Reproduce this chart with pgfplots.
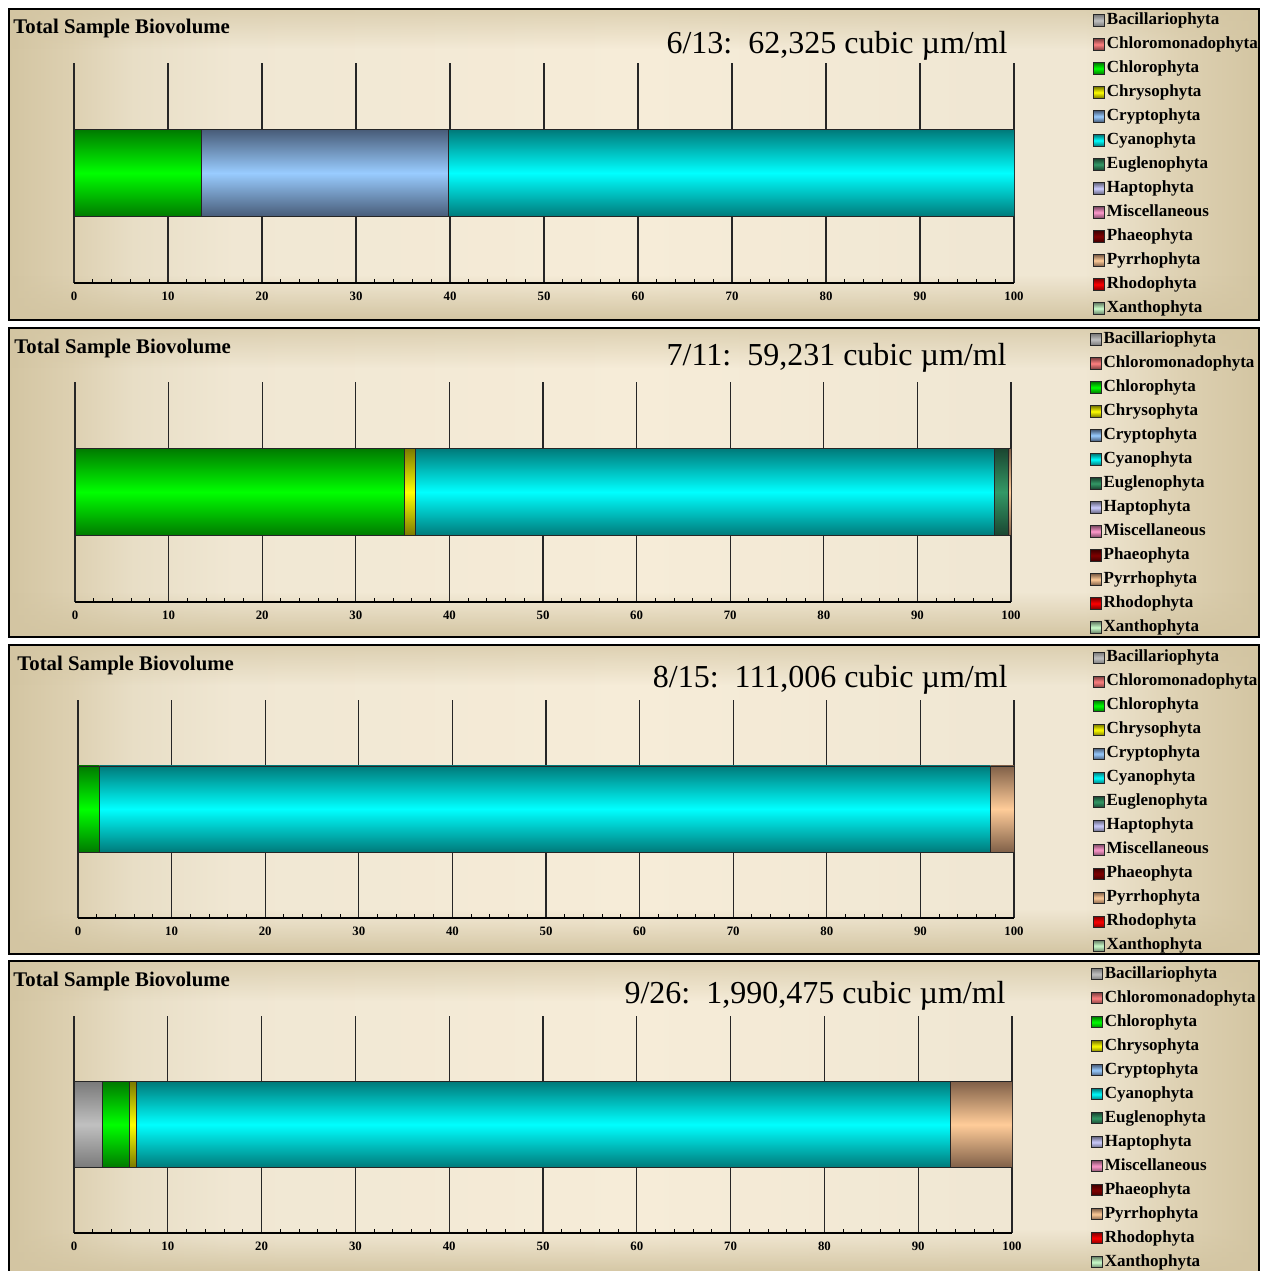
\documentclass[border=0pt]{standalone}
\usepackage{fontspec}
\setmainfont{Liberation Serif}
\usepackage{pgfplots}
\usepackage{pgfplotstable}
\pgfplotsset{compat=1.18}
\usetikzlibrary{fadings}

\definecolor{bgD}{HTML}{D3C5A2}
\definecolor{bgA}{HTML}{DDD0B1}
\definecolor{bgB}{HTML}{E8DEC6}
\definecolor{bgC}{HTML}{F0E7D3}
\definecolor{bgE}{HTML}{F6ECD8}

\definecolor{cBac}{HTML}{C0C0C0}\definecolor{dBac}{HTML}{7A7A7A}
\definecolor{cChlm}{HTML}{FF8080}\definecolor{dChlm}{HTML}{804040}
\definecolor{cChl}{HTML}{00FF00}\definecolor{dChl}{HTML}{007A00}
\definecolor{cChry}{HTML}{FFFF00}\definecolor{dChry}{HTML}{7A7A00}
\definecolor{cCryp}{HTML}{99CCFF}\definecolor{dCryp}{HTML}{485C78}
\definecolor{cCyan}{HTML}{00FFFF}\definecolor{dCyan}{HTML}{007A7A}
\definecolor{cEugl}{HTML}{339966}\definecolor{dEugl}{HTML}{1A4530}
\definecolor{cHapt}{HTML}{CCCCFF}\definecolor{dHapt}{HTML}{66667F}
\definecolor{cMisc}{HTML}{FF99CC}\definecolor{dMisc}{HTML}{804C66}
\definecolor{cPhae}{HTML}{800000}\definecolor{dPhae}{HTML}{400000}
\definecolor{cPyrr}{HTML}{FFCC99}\definecolor{dPyrr}{HTML}{806048}
\definecolor{cRhod}{HTML}{FF0000}\definecolor{dRhod}{HTML}{800000}
\definecolor{cXant}{HTML}{CCFFCC}\definecolor{dXant}{HTML}{668066}

\pgfdeclarehorizontalshading{bgh}{100bp}{color(0bp)=(bgD); color(25bp)=(bgD); color(27.5bp)=(bgA); color(30bp)=(bgB); color(34bp)=(bgC); color(50bp)=(bgE); color(64bp)=(bgC); color(68bp)=(bgC); color(72bp)=(bgA); color(75bp)=(bgD); color(100bp)=(bgD)}
\tikzfading[name=fadedown, top color=transparent!100, bottom color=transparent!0]
\tikzfading[name=fadeup, top color=transparent!0, bottom color=transparent!100]

\pgfplotstableread{
Bac Chlm Chl Chry Cryp Cyan Eugl Hapt Misc Phae Pyrr Rhod Xant
0 0 13.6 0 26.2 60.2 0 0 0 0 0 0 0
}\dataA
\pgfplotstableread{
Bac Chlm Chl Chry Cryp Cyan Eugl Hapt Misc Phae Pyrr Rhod Xant
0 0 35.2 1.2 0 61.8 1.5 0 0 0 0.3 0 0
}\dataB
\pgfplotstableread{
Bac Chlm Chl Chry Cryp Cyan Eugl Hapt Misc Phae Pyrr Rhod Xant
0 0 2.3 0 0 95.2 0 0 0 0 2.5 0 0
}\dataC
\pgfplotstableread{
Bac Chlm Chl Chry Cryp Cyan Eugl Hapt Misc Phae Pyrr Rhod Xant
3.0 0 2.9 0.8 0 86.7 0 0 0 0 6.6 0 0
}\dataD

\pgfplotsset{
  grad/.style 2 args={draw=black!85, line width=0.45pt, top color=#2, bottom color=#2, middle color=#1,
    legend image code/.code={\draw[##1, line width=0.4pt] (0pt,-2.8pt) rectangle (5.6pt,2.8pt);}},
  panel/.style={
    scale only axis, xbar stacked,
    xmin=0, xmax=100, ymin=-1, ymax=1, bar width=0.79,
    axis x line*=bottom, axis y line=none, ytick=\empty,
    xtick={0,10,...,100}, minor x tick num=4, xtick align=inside,
    xmajorgrids, major grid style={black!85, line width=0.6pt},
    tick style={black, line width=0.5pt}, minor tick length=2pt, major tick length=0pt,
    axis line style={black, line width=0.8pt},
    ticklabel style={font=\bfseries\fontsize{6.4}{7}\selectfont, yshift=-1pt},
    /pgf/number format/assume math mode=true,
    legend cell align=left,
    legend style={draw=none, fill=none, at={(1.084,1.248)}, anchor=north west,
      font=\bfseries\fontsize{8.5}{9}\selectfont,
      nodes={text height=6pt, text depth=2pt, inner xsep=1pt, inner ysep=2pt, anchor=west},
      row sep=0pt, inner sep=0pt, outer sep=0pt},
    legend entries={Bacillariophyta,Chloromonadophyta,Chlorophyta,Chrysophyta,Cryptophyta,Cyanophyta,Euglenophyta,Haptophyta,Miscellaneous,Phaeophyta,Pyrrhophyta,Rhodophyta,Xanthophyta},
  },
}

\newcommand\bars[1]{%
  \addplot[grad={cBac}{dBac}] table[x=Bac, y expr=0]{#1};
  \addplot[grad={cChlm}{dChlm}] table[x=Chlm, y expr=0]{#1};
  \addplot[grad={cChl}{dChl}] table[x=Chl, y expr=0]{#1};
  \addplot[grad={cChry}{dChry}] table[x=Chry, y expr=0]{#1};
  \addplot[grad={cCryp}{dCryp}] table[x=Cryp, y expr=0]{#1};
  \addplot[grad={cCyan}{dCyan}] table[x=Cyan, y expr=0]{#1};
  \addplot[grad={cEugl}{dEugl}] table[x=Eugl, y expr=0]{#1};
  \addplot[grad={cHapt}{dHapt}] table[x=Hapt, y expr=0]{#1};
  \addplot[grad={cMisc}{dMisc}] table[x=Misc, y expr=0]{#1};
  \addplot[grad={cPhae}{dPhae}] table[x=Phae, y expr=0]{#1};
  \addplot[grad={cPyrr}{dPyrr}] table[x=Pyrr, y expr=0]{#1};
  \addplot[grad={cRhod}{dRhod}] table[x=Rhod, y expr=0]{#1};
  \addplot[grad={cXant}{dXant}] table[x=Xant, y expr=0]{#1};
}

\newcommand\panelbg[2]{%
  \shade[shading=bgh] (9,#1) rectangle (1259,#2);
  \fill[bgD, path fading=fadedown] (9,{#2-45}) rectangle (1259,#2);
  \fill[bgD, path fading=fadeup, opacity=0.7] (9,#1) rectangle (1259,{#1+40});
  \draw[black, line width=1pt] (9,#1) rectangle (1259,#2);
}

\begin{document}
\begin{tikzpicture}
\path[use as bounding box] (0pt,0pt) rectangle (632.5pt,-635.5pt);
\begin{scope}[x=0.5pt, y=-0.5pt]
  \panelbg{9}{320}
  \panelbg{328}{637}
  \panelbg{645}{954}
  \panelbg{961}{1274}
  \node[anchor=base west, inner sep=0pt, font=\bfseries\fontsize{10.4}{12}\selectfont] at (13,33.5) {Total Sample Biovolume};
  \node[anchor=base west, inner sep=0pt, font=\bfseries\fontsize{10.4}{12}\selectfont] at (14,353) {Total Sample Biovolume};
  \node[anchor=base west, inner sep=0pt, font=\bfseries\fontsize{10.4}{12}\selectfont] at (17,670) {Total Sample Biovolume};
  \node[anchor=base west, inner sep=0pt, font=\bfseries\fontsize{10.4}{12}\selectfont] at (13,986) {Total Sample Biovolume};
  \node[anchor=base east, inner sep=0pt, font=\fontsize{16}{18}\selectfont] at (1008,53.5) {6/13:\ \ 62,325 cubic µm/ml};
  \node[anchor=base east, inner sep=0pt, font=\fontsize{16}{18}\selectfont] at (1007,365.5) {7/11:\ \ 59,231 cubic µm/ml};
  \node[anchor=base east, inner sep=0pt, font=\fontsize{16}{18}\selectfont] at (1008,687.5) {8/15:\ \ 111,006 cubic µm/ml};
  \node[anchor=base east, inner sep=0pt, font=\fontsize{16}{18}\selectfont] at (1006,1003.5) {9/26:\ \ 1,990,475 cubic µm/ml};
\end{scope}

\begin{axis}[panel, at={(37pt,-141.5pt)}, anchor=south west, width=470pt, height=110pt]
\bars{\dataA}
\end{axis}
\begin{axis}[panel, at={(37.5pt,-301pt)}, anchor=south west, width=468pt, height=110pt]
\bars{\dataB}
\end{axis}
\begin{axis}[panel, at={(39pt,-459pt)}, anchor=south west, width=468pt, height=109pt]
\bars{\dataC}
\end{axis}
\begin{axis}[panel, at={(37pt,-616.5pt)}, anchor=south west, width=469pt, height=108.5pt]
\bars{\dataD}
\end{axis}
\end{tikzpicture}
\end{document}
